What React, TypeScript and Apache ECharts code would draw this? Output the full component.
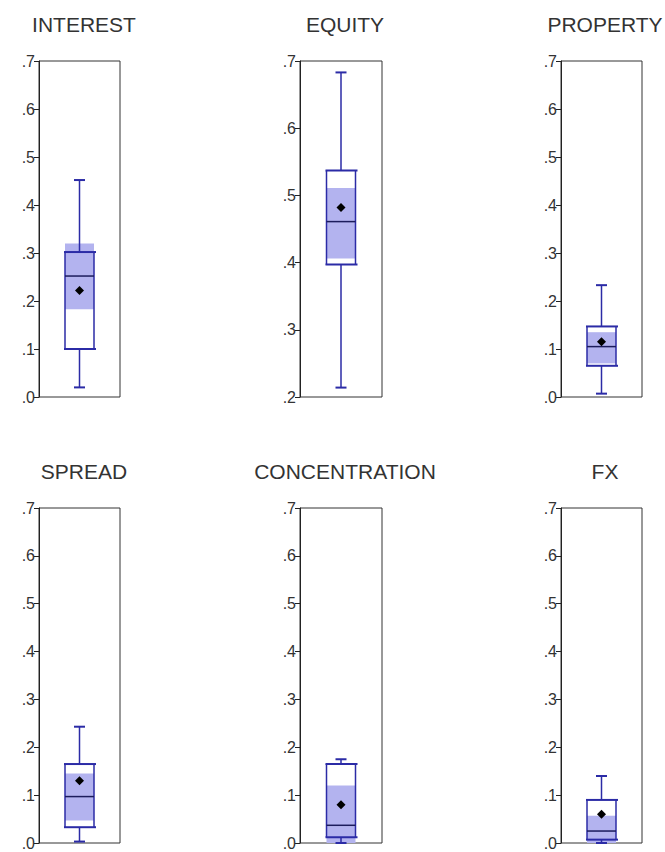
import React, { useEffect, useRef } from 'react';
import * as echarts from 'echarts';

const titles = ['INTEREST', 'EQUITY', 'PROPERTY', 'SPREAD', 'CONCENTRATION', 'FX'];
const axisMin = [0, 0.2, 0, 0, 0, 0];
const axisMax = [0.7, 0.7, 0.7, 0.7, 0.7, 0.7];
const whiskerLow = [0.02, 0.214, 0.007, 0.003, 0.0, 0.0];
const q1 = [0.1, 0.397, 0.065, 0.033, 0.012, 0.007];
const median = [0.252, 0.461, 0.105, 0.097, 0.037, 0.025];
const q3 = [0.302, 0.537, 0.147, 0.165, 0.165, 0.09];
const whiskerHigh = [0.452, 0.683, 0.233, 0.243, 0.175, 0.14];
const mean = [0.222, 0.482, 0.115, 0.13, 0.08, 0.06];
const bandLow = [0.183, 0.406, 0.07, 0.047, 0.0, 0.0];
const bandHigh = [0.32, 0.511, 0.135, 0.145, 0.12, 0.057];

const NAVY = '#2b2ba6';
const BAND = '#b3b3ef';

export default function App() {
  const ref = useRef<HTMLDivElement>(null);
  useEffect(() => {
    if (!ref.current) return;
    const chart = echarts.init(ref.current, undefined, { renderer: 'svg' });
    const lefts = [39, 300, 561];
    const widths = [81, 82, 81];
    const titleCenters = [79, 340, 600];
    const tops = [61, 508];
    const heights = [336, 335];
    const titleTops = [9, 456];

    const grids: any[] = [];
    const xAxes: any[] = [];
    const yAxes: any[] = [];
    const series: any[] = [];
    const titleOpts: any[] = [];

    titles.forEach((t, i) => {
      const col = i % 3;
      const row = Math.floor(i / 3);
      grids.push({
        left: lefts[col],
        top: tops[row],
        width: widths[col],
        height: heights[row],
        show: true,
        borderColor: '#333',
        borderWidth: 1,
        backgroundColor: '#fff',
        containLabel: false,
      });
      xAxes.push({ type: 'category', gridIndex: i, data: [t], show: false });
      yAxes.push({
        type: 'value',
        gridIndex: i,
        min: axisMin[i],
        max: axisMax[i],
        interval: 0.1,
        axisLine: { show: true, lineStyle: { color: '#222', width: 1 } },
        axisTick: { show: true, length: 5, lineStyle: { color: '#222' } },
        splitLine: { show: false },
        axisLabel: {
          fontSize: 16,
          fontFamily: 'Liberation Sans',
          color: '#333',
          margin: 4,
          formatter: (v: number) => v.toFixed(1).replace(/^0/, ''),
        },
      });
      titleOpts.push({
        text: t,
        left: titleCenters[col],
        top: titleTops[row],
        textAlign: 'center',
        textStyle: { fontSize: 21, fontWeight: 'normal', fontFamily: 'Liberation Sans', color: '#333' },
      });
      series.push({
        type: 'custom',
        xAxisIndex: i,
        yAxisIndex: i,
        data: [[0, whiskerLow[i], q1[i], median[i], q3[i], whiskerHigh[i], mean[i], bandLow[i], bandHigh[i]]],
        renderItem: (params: any, api: any) => {
          const cx = api.coord([0, api.value(1)])[0];
          const y = (k: number) => api.coord([0, api.value(k)])[1];
          const yLow = y(1), yQ1 = y(2), yMed = y(3), yQ3 = y(4), yHigh = y(5), yMean = y(6), yBL = y(7), yBH = y(8);
          const bw = 29;
          const cw = 11;
          const x0 = cx - bw / 2;
          const x1 = cx + bw / 2;
          const line = (ax: number, ay: number, bx: number, by: number, color: string, w: number) => ({
            type: 'line',
            shape: { x1: ax, y1: ay, x2: bx, y2: by },
            style: { stroke: color, lineWidth: w },
          });
          const r = 4.5;
          return {
            type: 'group',
            children: [
              { type: 'rect', shape: { x: x0, y: yQ3, width: bw, height: yQ1 - yQ3 }, style: { fill: '#fff' } },
              { type: 'rect', shape: { x: x0, y: yBH, width: bw, height: yBL - yBH }, style: { fill: BAND } },
              line(x0, yQ3, x0, yQ1, NAVY, 1.5),
              line(x1, yQ3, x1, yQ1, NAVY, 1.5),
              line(x0 - 1, yQ3, x1 + 2, yQ3, NAVY, 2),
              line(x0 - 1, yQ1, x1 + 2, yQ1, NAVY, 2),
              line(x0, yMed, x1, yMed, '#1c1c5c', 1.5),
              line(cx, yQ3, cx, yHigh, NAVY, 1.5),
              line(cx, yQ1, cx, yLow, NAVY, 1.5),
              line(cx - cw / 2, yHigh, cx + cw / 2, yHigh, NAVY, 2),
              line(cx - cw / 2, yLow, cx + cw / 2, yLow, NAVY, 2),
              {
                type: 'polygon',
                shape: { points: [[cx, yMean - r], [cx + r, yMean], [cx, yMean + r], [cx - r, yMean]] },
                style: { fill: '#000' },
              },
            ],
          };
        },
      });
    });

    chart.setOption({
      animation: false,
      backgroundColor: '#fff',
      title: titleOpts,
      grid: grids,
      xAxis: xAxes,
      yAxis: yAxes,
      series,
    });
    return () => chart.dispose();
  }, []);
  return <div ref={ref} style={{ position: 'fixed', left: 0, top: 0, width: 665, height: 852 }} />;
}
